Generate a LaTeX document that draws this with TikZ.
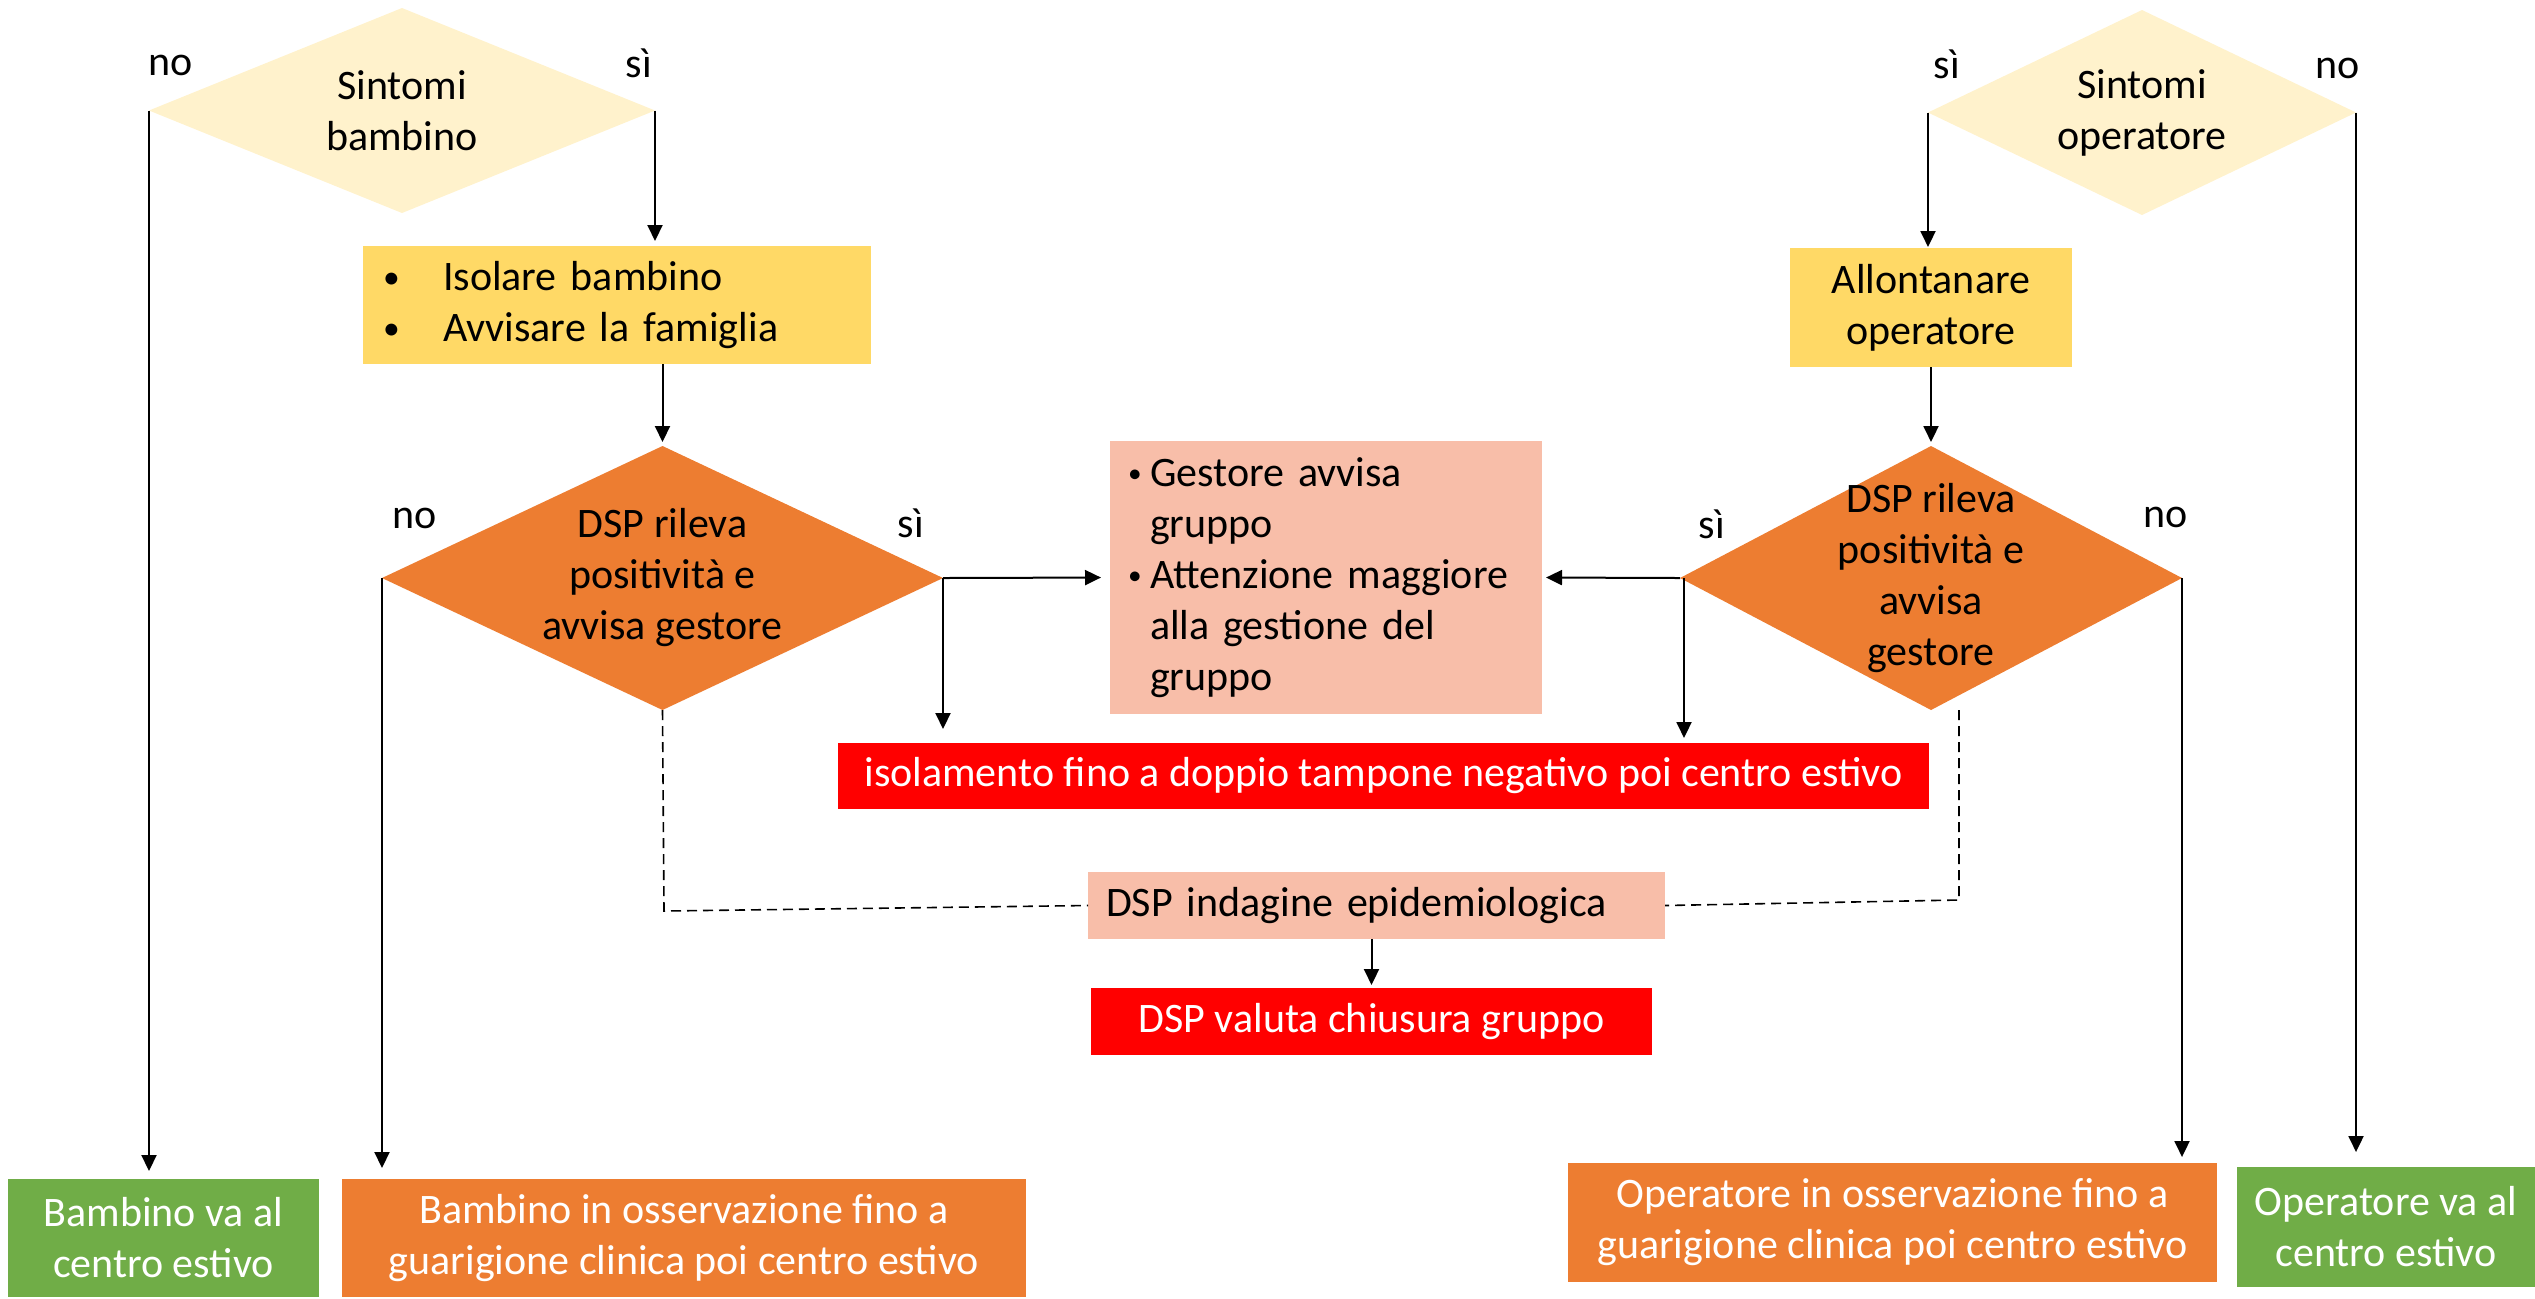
\documentclass[tikz,border=0pt]{standalone}
\usepackage{graphicx}
\usepackage{fontspec}
\setmainfont{Carlito}
\usetikzlibrary{shapes.geometric,arrows.meta}
\definecolor{lyellow}{HTML}{FFF2CC}
\definecolor{cgold}{HTML}{FFD966}
\definecolor{corange}{HTML}{ED7D31}
\definecolor{csalmon}{HTML}{F8BEA9}
\definecolor{cgreen}{HTML}{70AD47}
\definecolor{cred}{HTML}{FF0000}
\newcommand{\fsz}{\fontsize{21pt}{25.5pt}\selectfont}
\newcommand{\bul}{\makebox[11pt][l]{\raisebox{0.1em}{\scalebox{0.65}{\textbullet}}}}
\newcommand{\bulb}{\makebox[30pt][l]{\raisebox{0.05em}{\scalebox{0.8}{\textbullet}}}}
\newcommand{\ind}{\hspace*{11pt}}
\begin{document}
\begin{tikzpicture}[x=0.5pt,y=-0.5pt,
  dia/.style={shape=diamond, draw=none, inner sep=0pt, outer sep=0pt},
  box/.style={rectangle, draw=none, inner sep=0pt, outer sep=0pt, align=center, font=\fsz},
  txt/.style={inner sep=0pt, outer sep=0pt, align=center, font=\fsz},
  lbl/.style={anchor=base, inner sep=0pt, font=\fsz},
  arr/.style={draw=black, line width=1pt, -{Triangle[length=8pt,width=7.5pt]}},
  dline/.style={draw=black, line width=0.8pt, dash pattern=on 5pt off 3pt}]
\useasboundingbox (0,0) rectangle (2535,1298);

% diamonds
\node[dia, fill=lyellow, minimum width=253pt, minimum height=102.5pt] (d1) at (402,110.5) {};
\node[txt] (d1t) at (d1.center) {Sintomi\\bambino};
\node[dia, fill=lyellow, minimum width=214pt, minimum height=102.5pt] (d8) at (2142,112.5) {};
\node[txt] (d8t) at (d8.center) {Sintomi\\operatore};
\node[dia, fill=corange, minimum width=280.5pt, minimum height=132pt] (d3) at (662.5,578) {};
\node[txt] (d3t) at (d3.center) {DSP rileva\\positività e\\avvisa gestore};
\node[dia, fill=corange, minimum width=251pt, minimum height=132pt] (d10) at (1931,578) {};
\node[txt] (d10t) at (d10.center) {DSP rileva\\positività e\\avvisa\\gestore};

% boxes
\node[box, fill=cgold, minimum width=254pt, minimum height=59pt, inner xsep=10pt, text width=234pt, align=left] (r2) at (617,305)
  {\bulb Isolare bambino\\\bulb Avvisare la famiglia};
\node[box, fill=cgold, minimum width=141pt, minimum height=59.5pt] (r9) at (1931,307.5) {Allontanare\\operatore};
\node[box, fill=csalmon, minimum width=216pt, minimum height=136.5pt, inner xsep=9pt, text width=198pt, align=left] (r4) at (1326,577.5)
  {\bul Gestore avvisa\\\ind gruppo\\\bul Attenzione maggiore\\\ind alla gestione del\\\ind gruppo};
\node[box, fill=cred, text=white, minimum width=545.5pt, minimum height=33pt] (r5) at (1383.5,776)
  {isolamento fino a doppio tampone negativo poi centro estivo};
\node[box, fill=csalmon, minimum width=288.5pt, minimum height=33.5pt, inner xsep=9pt, text width=270.5pt, align=left] (r6) at (1376.5,905.5)
  {DSP indagine epidemiologica};
\node[box, fill=cred, text=white, minimum width=280.5pt, minimum height=33.5pt] (r7) at (1371.5,1021.5)
  {DSP valuta chiusura gruppo};
\node[box, fill=cgreen, text=white, minimum width=155.5pt, minimum height=59pt] (b11) at (163.5,1238)
  {Bambino va al\\centro estivo};
\node[box, fill=corange, text=white, minimum width=342pt, minimum height=59pt] (b12) at (684,1238)
  {Bambino in osservazione fino a\\guarigione clinica poi centro estivo};
\node[box, fill=corange, text=white, minimum width=324.5pt, minimum height=59.5pt] (b13) at (1892.5,1222.5)
  {Operatore in osservazione fino a\\guarigione clinica poi centro estivo};
\node[box, fill=cgreen, text=white, minimum width=149pt, minimum height=60pt] (b14) at (2386,1227)
  {Operatore va al\\centro estivo};

% labels
\node[lbl] (l1no) at (171,75) {no};
\node[lbl] (l1si) at (639,77) {sì};
\node[lbl] (l3no) at (415,528) {no};
\node[lbl] (l3si) at (911,537) {sì};
\node[lbl] (l8si) at (1947,78) {sì};
\node[lbl] (l8no) at (2338,78) {no};
\node[lbl] (l10si) at (1712,538) {sì};
\node[lbl] (l10no) at (2166,527) {no};

% connectors
\coordinate (c1) at (664,911);
\draw[arr, shorten >=4pt] (d1.west) -- (d1.west |- b11.north);
\draw[arr, shorten >=2.5pt] (d1.east) -- (d1.east |- r2.north);
\draw[arr, shorten >=2pt] (r2.south -| d3.north) -- (d3.north);
\draw[arr, shorten >=5.5pt] (d3.west) -- (d3.west |- b12.north);
\draw[arr, shorten >=4.5pt] (d3.east) -- (r4.west);
\draw[arr, shorten >=7pt] (d3.east) -- (d3.east |- r5.north);
\draw[dline] (d3.south) -- (c1) -- (r6.west);
\draw[arr, shorten >=0.5pt] (d8.west) -- (d8.west |- r9.north);
\draw[arr, shorten >=7.5pt] (d8.east) -- (d8.east |- b14.north);
\draw[arr, shorten >=2pt] (r9.south) -- (d10.north);
\draw[arr, shorten >=2pt] (d10.west) -- (r4.east);
\draw[arr, shorten >=2.5pt] ([xshift=2pt]d10.west) -- ([xshift=2pt]d10.west |- r5.north);
\draw[arr, shorten >=3pt] (d10.east) -- (d10.east |- b13.north);
\draw[dline] ([xshift=14pt]d10.south) -- ++(0,190) -- (r6.east);
\draw[arr, shorten >=1.5pt] (r6.south -| r7.north) -- (r7.north);
\end{tikzpicture}
\end{document}
